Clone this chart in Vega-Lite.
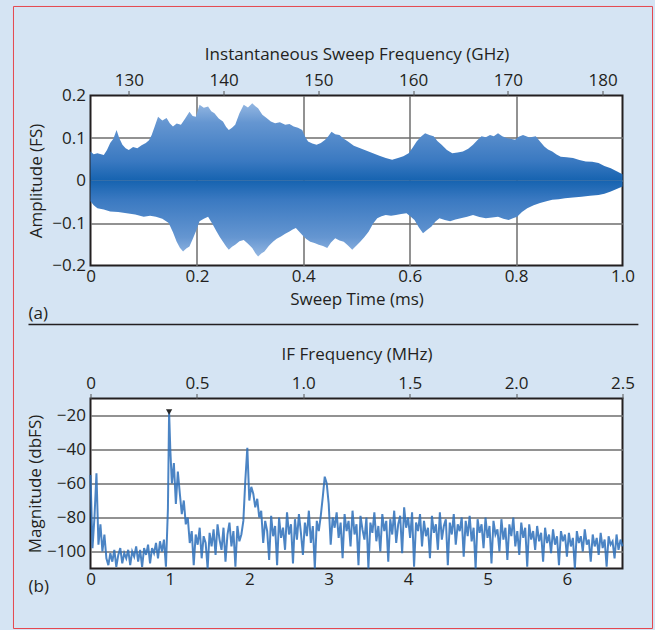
{
  "$schema": "https://vega.github.io/schema/vega-lite/v6.json",
  "background": "#d5e4f3",
  "padding": {"left": 11.5, "top": 4.5, "right": 3.5, "bottom": 2.5},
  "bounds": "flush",
  "spacing": 133,
  "config": {
    "font": "Open Sans",
    "view": {"fill": "white", "stroke": "#231f20", "strokeWidth": 2},
    "axis": {
      "labelFont": "Open Sans", "titleFont": "Open Sans",
      "labelFontSize": 17, "titleFontSize": 17,
      "labelColor": "#231f20", "titleColor": "#231f20",
      "titleFontWeight": "normal",
      "domain": false, "ticks": false,
      "gridColor": "#6e6e6e", "gridWidth": 1.5, "gridOpacity": 1,
      "labelOverlap": false, "labelFlush": false, "zindex": 1
    },
    "text": {"font": "Open Sans", "fontSize": 17, "color": "#231f20"}
  },
  "datasets": {
    "upper": [
      {"t":0,"a":0.068},{"t":0.006,"a":0.062},{"t":0.013,"a":0.064},{"t":0.025,"a":0.06},{"t":0.031,"a":0.072},{"t":0.037,"a":0.088},{"t":0.043,"a":0.098},{"t":0.049,"a":0.119},{"t":0.054,"a":0.1},{"t":0.06,"a":0.084},{"t":0.066,"a":0.076},{"t":0.072,"a":0.072},{"t":0.08,"a":0.079},{"t":0.088,"a":0.076},{"t":0.096,"a":0.083},{"t":0.104,"a":0.088},{"t":0.11,"a":0.095},{"t":0.115,"a":0.107},{"t":0.121,"a":0.128},{"t":0.127,"a":0.15},{"t":0.135,"a":0.141},{"t":0.143,"a":0.147},{"t":0.149,"a":0.135},{"t":0.155,"a":0.127},{"t":0.162,"a":0.134},{"t":0.17,"a":0.131},{"t":0.178,"a":0.146},{"t":0.186,"a":0.162},{"t":0.192,"a":0.152},{"t":0.198,"a":0.15},{"t":0.205,"a":0.178},{"t":0.213,"a":0.171},{"t":0.221,"a":0.174},{"t":0.227,"a":0.163},{"t":0.233,"a":0.158},{"t":0.241,"a":0.146},{"t":0.249,"a":0.139},{"t":0.255,"a":0.126},{"t":0.26,"a":0.119},{"t":0.266,"a":0.124},{"t":0.272,"a":0.131},{"t":0.28,"a":0.158},{"t":0.288,"a":0.178},{"t":0.296,"a":0.172},{"t":0.304,"a":0.182},{"t":0.31,"a":0.175},{"t":0.315,"a":0.17},{"t":0.323,"a":0.155},{"t":0.331,"a":0.147},{"t":0.339,"a":0.139},{"t":0.347,"a":0.135},{"t":0.356,"a":0.137},{"t":0.366,"a":0.131},{"t":0.374,"a":0.133},{"t":0.382,"a":0.127},{"t":0.39,"a":0.124},{"t":0.398,"a":0.119},{"t":0.403,"a":0.104},{"t":0.409,"a":0.092},{"t":0.417,"a":0.087},{"t":0.425,"a":0.084},{"t":0.433,"a":0.088},{"t":0.441,"a":0.096},{"t":0.447,"a":0.104},{"t":0.453,"a":0.115},{"t":0.46,"a":0.109},{"t":0.468,"a":0.107},{"t":0.476,"a":0.098},{"t":0.484,"a":0.092},{"t":0.495,"a":0.082},{"t":0.507,"a":0.076},{"t":0.519,"a":0.07},{"t":0.531,"a":0.064},{"t":0.543,"a":0.058},{"t":0.555,"a":0.053},{"t":0.567,"a":0.049},{"t":0.578,"a":0.053},{"t":0.588,"a":0.057},{"t":0.598,"a":0.064},{"t":0.606,"a":0.078},{"t":0.613,"a":0.092},{"t":0.621,"a":0.103},{"t":0.629,"a":0.111},{"t":0.637,"a":0.107},{"t":0.645,"a":0.104},{"t":0.652,"a":0.093},{"t":0.66,"a":0.084},{"t":0.67,"a":0.072},{"t":0.68,"a":0.064},{"t":0.69,"a":0.066},{"t":0.7,"a":0.068},{"t":0.71,"a":0.075},{"t":0.719,"a":0.084},{"t":0.727,"a":0.095},{"t":0.735,"a":0.104},{"t":0.743,"a":0.102},{"t":0.751,"a":0.107},{"t":0.758,"a":0.104},{"t":0.766,"a":0.111},{"t":0.774,"a":0.104},{"t":0.782,"a":0.1},{"t":0.79,"a":0.098},{"t":0.798,"a":0.096},{"t":0.805,"a":0.103},{"t":0.813,"a":0.107},{"t":0.825,"a":0.101},{"t":0.837,"a":0.104},{"t":0.845,"a":0.092},{"t":0.853,"a":0.08},{"t":0.86,"a":0.073},{"t":0.868,"a":0.068},{"t":0.876,"a":0.061},{"t":0.884,"a":0.056},{"t":0.895,"a":0.055},{"t":0.907,"a":0.053},{"t":0.919,"a":0.048},{"t":0.931,"a":0.045},{"t":0.943,"a":0.044},{"t":0.955,"a":0.041},{"t":0.966,"a":0.034},{"t":0.978,"a":0.029},{"t":0.989,"a":0.022},{"t":1.0,"a":0.015}
    ],
    "lower": [
      {"t":0,"a":-0.049},{"t":0.006,"a":-0.058},{"t":0.013,"a":-0.065},{"t":0.025,"a":-0.068},{"t":0.037,"a":-0.073},{"t":0.052,"a":-0.074},{"t":0.068,"a":-0.077},{"t":0.084,"a":-0.08},{"t":0.1,"a":-0.085},{"t":0.112,"a":-0.083},{"t":0.123,"a":-0.085},{"t":0.135,"a":-0.09},{"t":0.147,"a":-0.1},{"t":0.155,"a":-0.122},{"t":0.162,"a":-0.144},{"t":0.168,"a":-0.158},{"t":0.174,"a":-0.167},{"t":0.18,"a":-0.16},{"t":0.186,"a":-0.155},{"t":0.192,"a":-0.138},{"t":0.198,"a":-0.12},{"t":0.205,"a":-0.096},{"t":0.213,"a":-0.09},{"t":0.221,"a":-0.085},{"t":0.229,"a":-0.102},{"t":0.237,"a":-0.12},{"t":0.243,"a":-0.133},{"t":0.249,"a":-0.144},{"t":0.255,"a":-0.155},{"t":0.26,"a":-0.163},{"t":0.266,"a":-0.156},{"t":0.272,"a":-0.151},{"t":0.28,"a":-0.143},{"t":0.288,"a":-0.14},{"t":0.296,"a":-0.149},{"t":0.304,"a":-0.159},{"t":0.31,"a":-0.171},{"t":0.315,"a":-0.179},{"t":0.321,"a":-0.172},{"t":0.327,"a":-0.167},{"t":0.335,"a":-0.154},{"t":0.343,"a":-0.144},{"t":0.35,"a":-0.137},{"t":0.358,"a":-0.132},{"t":0.366,"a":-0.125},{"t":0.374,"a":-0.12},{"t":0.38,"a":-0.115},{"t":0.386,"a":-0.112},{"t":0.392,"a":-0.12},{"t":0.398,"a":-0.128},{"t":0.405,"a":-0.137},{"t":0.413,"a":-0.144},{"t":0.421,"a":-0.147},{"t":0.429,"a":-0.151},{"t":0.437,"a":-0.154},{"t":0.445,"a":-0.159},{"t":0.452,"a":-0.146},{"t":0.46,"a":-0.136},{"t":0.468,"a":-0.141},{"t":0.476,"a":-0.144},{"t":0.484,"a":-0.153},{"t":0.492,"a":-0.163},{"t":0.5,"a":-0.153},{"t":0.507,"a":-0.144},{"t":0.515,"a":-0.133},{"t":0.523,"a":-0.12},{"t":0.531,"a":-0.102},{"t":0.539,"a":-0.089},{"t":0.547,"a":-0.084},{"t":0.555,"a":-0.081},{"t":0.565,"a":-0.083},{"t":0.574,"a":-0.081},{"t":0.584,"a":-0.079},{"t":0.594,"a":-0.077},{"t":0.601,"a":-0.084},{"t":0.609,"a":-0.093},{"t":0.617,"a":-0.11},{"t":0.625,"a":-0.124},{"t":0.633,"a":-0.116},{"t":0.641,"a":-0.108},{"t":0.648,"a":-0.097},{"t":0.656,"a":-0.089},{"t":0.666,"a":-0.093},{"t":0.676,"a":-0.096},{"t":0.686,"a":-0.092},{"t":0.696,"a":-0.089},{"t":0.708,"a":-0.085},{"t":0.719,"a":-0.081},{"t":0.731,"a":-0.086},{"t":0.743,"a":-0.089},{"t":0.755,"a":-0.087},{"t":0.766,"a":-0.085},{"t":0.776,"a":-0.09},{"t":0.786,"a":-0.093},{"t":0.794,"a":-0.089},{"t":0.802,"a":-0.085},{"t":0.811,"a":-0.074},{"t":0.821,"a":-0.065},{"t":0.833,"a":-0.058},{"t":0.845,"a":-0.053},{"t":0.857,"a":-0.049},{"t":0.868,"a":-0.045},{"t":0.88,"a":-0.044},{"t":0.892,"a":-0.042},{"t":0.907,"a":-0.04},{"t":0.923,"a":-0.038},{"t":0.939,"a":-0.036},{"t":0.955,"a":-0.034},{"t":0.966,"a":-0.031},{"t":0.978,"a":-0.026},{"t":0.989,"a":-0.02},{"t":1.0,"a":-0.014}
    ],
    "ghz": [{"f":125.95},{"f":182.1}],
    "mhz": [{"f":0},{"f":2.5}],
    "peak": [{"f":0.99,"db":-18}],
    "spec": [
      {"f":0,"db":-55},{"f":0.025,"db":-98},{"f":0.05,"db":-80},{"f":0.075,"db":-54},{"f":0.1,"db":-96},{"f":0.125,"db":-84},{"f":0.15,"db":-100},{"f":0.175,"db":-90},{"f":0.2,"db":-104},
      {"f":0.225,"db":-108},{"f":0.25,"db":-101},{"f":0.275,"db":-106},{"f":0.3,"db":-99},{"f":0.325,"db":-109},{"f":0.35,"db":-102},{"f":0.375,"db":-98},{"f":0.4,"db":-107},{"f":0.425,"db":-101},{"f":0.45,"db":-104},{"f":0.475,"db":-99},{"f":0.5,"db":-108},{"f":0.525,"db":-100},{"f":0.55,"db":-103},{"f":0.575,"db":-97},{"f":0.6,"db":-106},{"f":0.625,"db":-99},{"f":0.65,"db":-109},{"f":0.675,"db":-98},{"f":0.7,"db":-102},{"f":0.725,"db":-96},{"f":0.75,"db":-107},{"f":0.775,"db":-98},{"f":0.8,"db":-101},{"f":0.825,"db":-95},{"f":0.85,"db":-104},{"f":0.875,"db":-94},{"f":0.9,"db":-100},{"f":0.925,"db":-93},{"f":0.95,"db":-109},{"f":0.975,"db":-75},
      {"f":0.99,"db":-18},{"f":1.005,"db":-40},{"f":1.025,"db":-60},{"f":1.05,"db":-48},{"f":1.075,"db":-72},{"f":1.1,"db":-53},{"f":1.125,"db":-66},{"f":1.15,"db":-78},{"f":1.175,"db":-70},{"f":1.2,"db":-84},{"f":1.225,"db":-80},{"f":1.25,"db":-95},{"f":1.275,"db":-88},{"f":1.3,"db":-108},{"f":1.325,"db":-90},{"f":1.35,"db":-96},{"f":1.375,"db":-86},{"f":1.4,"db":-104},{"f":1.425,"db":-91},{"f":1.45,"db":-95},{"f":1.475,"db":-110},{"f":1.5,"db":-89},{"f":1.525,"db":-97},{"f":1.55,"db":-87},{"f":1.575,"db":-102},{"f":1.6,"db":-84},{"f":1.625,"db":-93},{"f":1.65,"db":-99},{"f":1.675,"db":-86},{"f":1.7,"db":-106},{"f":1.725,"db":-90},{"f":1.75,"db":-83},{"f":1.775,"db":-97},{"f":1.8,"db":-88},{"f":1.825,"db":-109},{"f":1.85,"db":-85},{"f":1.875,"db":-94},{"f":1.9,"db":-90},{"f":1.925,"db":-82},{"f":1.95,"db":-58},{"f":1.975,"db":-39},
      {"f":2.0,"db":-70},{"f":2.025,"db":-62},{"f":2.05,"db":-66},{"f":2.075,"db":-74},{"f":2.1,"db":-69},{"f":2.125,"db":-80},{"f":2.15,"db":-76},{"f":2.175,"db":-95},{"f":2.2,"db":-82},{"f":2.225,"db":-88},{"f":2.25,"db":-105},{"f":2.275,"db":-79},{"f":2.3,"db":-91},{"f":2.325,"db":-85},{"f":2.35,"db":-108},{"f":2.375,"db":-80},{"f":2.4,"db":-92},{"f":2.425,"db":-86},{"f":2.45,"db":-99},{"f":2.475,"db":-77},{"f":2.5,"db":-90},{"f":2.525,"db":-84},{"f":2.55,"db":-107},{"f":2.575,"db":-81},{"f":2.6,"db":-93},{"f":2.625,"db":-78},{"f":2.65,"db":-89},{"f":2.675,"db":-102},{"f":2.7,"db":-83},{"f":2.725,"db":-91},{"f":2.75,"db":-76},{"f":2.775,"db":-95},{"f":2.8,"db":-85},{"f":2.825,"db":-110},{"f":2.85,"db":-82},{"f":2.875,"db":-88},{"f":2.9,"db":-79},{"f":2.925,"db":-68},{"f":2.95,"db":-56},{"f":2.975,"db":-60},
      {"f":3.0,"db":-72},{"f":3.025,"db":-96},{"f":3.05,"db":-80},{"f":3.075,"db":-86},{"f":3.1,"db":-77},{"f":3.125,"db":-92},{"f":3.15,"db":-83},{"f":3.175,"db":-104},{"f":3.2,"db":-78},{"f":3.225,"db":-88},{"f":3.25,"db":-82},{"f":3.275,"db":-97},{"f":3.3,"db":-76},{"f":3.325,"db":-90},{"f":3.35,"db":-84},{"f":3.375,"db":-108},{"f":3.4,"db":-79},{"f":3.425,"db":-87},{"f":3.45,"db":-93},{"f":3.475,"db":-80},{"f":3.5,"db":-110},{"f":3.525,"db":-83},{"f":3.55,"db":-89},{"f":3.575,"db":-77},{"f":3.6,"db":-94},{"f":3.625,"db":-85},{"f":3.65,"db":-100},{"f":3.675,"db":-78},{"f":3.7,"db":-88},{"f":3.725,"db":-82},{"f":3.75,"db":-106},{"f":3.775,"db":-81},{"f":3.8,"db":-90},{"f":3.825,"db":-76},{"f":3.85,"db":-95},{"f":3.875,"db":-84},{"f":3.9,"db":-79},{"f":3.925,"db":-101},{"f":3.95,"db":-74},{"f":3.975,"db":-86},
      {"f":4.0,"db":-80},{"f":4.025,"db":-92},{"f":4.05,"db":-77},{"f":4.075,"db":-109},{"f":4.1,"db":-83},{"f":4.125,"db":-88},{"f":4.15,"db":-78},{"f":4.175,"db":-97},{"f":4.2,"db":-82},{"f":4.225,"db":-91},{"f":4.25,"db":-86},{"f":4.275,"db":-104},{"f":4.3,"db":-79},{"f":4.325,"db":-89},{"f":4.35,"db":-84},{"f":4.375,"db":-99},{"f":4.4,"db":-77},{"f":4.425,"db":-93},{"f":4.45,"db":-85},{"f":4.475,"db":-81},{"f":4.5,"db":-108},{"f":4.525,"db":-83},{"f":4.55,"db":-90},{"f":4.575,"db":-78},{"f":4.6,"db":-96},{"f":4.625,"db":-84},{"f":4.65,"db":-88},{"f":4.675,"db":-80},{"f":4.7,"db":-103},{"f":4.725,"db":-82},{"f":4.75,"db":-91},{"f":4.775,"db":-79},{"f":4.8,"db":-94},{"f":4.825,"db":-86},{"f":4.85,"db":-110},{"f":4.875,"db":-81},{"f":4.9,"db":-89},{"f":4.925,"db":-84},{"f":4.95,"db":-98},{"f":4.975,"db":-80},
      {"f":5.0,"db":-92},{"f":5.025,"db":-85},{"f":5.05,"db":-107},{"f":5.075,"db":-82},{"f":5.1,"db":-90},{"f":5.125,"db":-87},{"f":5.15,"db":-100},{"f":5.175,"db":-81},{"f":5.2,"db":-93},{"f":5.225,"db":-86},{"f":5.25,"db":-105},{"f":5.275,"db":-84},{"f":5.3,"db":-91},{"f":5.325,"db":-80},{"f":5.35,"db":-97},{"f":5.375,"db":-88},{"f":5.4,"db":-102},{"f":5.425,"db":-83},{"f":5.45,"db":-92},{"f":5.475,"db":-86},{"f":5.5,"db":-109},{"f":5.525,"db":-84},{"f":5.55,"db":-93},{"f":5.575,"db":-88},{"f":5.6,"db":-99},{"f":5.625,"db":-85},{"f":5.65,"db":-94},{"f":5.675,"db":-89},{"f":5.7,"db":-106},{"f":5.725,"db":-86},{"f":5.75,"db":-95},{"f":5.775,"db":-90},{"f":5.8,"db":-101},{"f":5.825,"db":-87},{"f":5.85,"db":-96},{"f":5.875,"db":-91},{"f":5.9,"db":-108},{"f":5.925,"db":-88},{"f":5.95,"db":-94},{"f":5.975,"db":-90},
      {"f":6.0,"db":-103},{"f":6.025,"db":-89},{"f":6.05,"db":-97},{"f":6.075,"db":-92},{"f":6.1,"db":-110},{"f":6.125,"db":-88},{"f":6.15,"db":-95},{"f":6.175,"db":-91},{"f":6.2,"db":-100},{"f":6.225,"db":-87},{"f":6.25,"db":-96},{"f":6.275,"db":-93},{"f":6.3,"db":-106},{"f":6.325,"db":-90},{"f":6.35,"db":-97},{"f":6.375,"db":-92},{"f":6.4,"db":-102},{"f":6.425,"db":-89},{"f":6.45,"db":-98},{"f":6.475,"db":-93},{"f":6.5,"db":-109},{"f":6.525,"db":-91},{"f":6.55,"db":-96},{"f":6.575,"db":-94},{"f":6.6,"db":-104},{"f":6.625,"db":-90},{"f":6.65,"db":-99},{"f":6.675,"db":-93},{"f":6.7,"db":-97}
    ]
  },
  "vconcat": [
    {
      "width": 532, "height": 170,
      "layer": [
        {
          "layer": [
            {
              "data": {"name": "upper"},
              "mark": {"type": "area", "fill": {"gradient": "linear", "x1": 0, "y1": 0, "x2": 0, "y2": 1, "stops": [{"offset": 0, "color": "#94b7e2"}, {"offset": 0.25, "color": "#6596d1"}, {"offset": 0.75, "color": "#3a79c1"}, {"offset": 1, "color": "#1663b0"}]}},
              "encoding": {
                "x": {"field": "t", "type": "quantitative", "scale": {"domain": [0, 1], "nice": false},
                  "axis": {"title": "Sweep Time (ms)", "values": [0, 0.2, 0.4, 0.6, 0.8, 1.0], "labelExpr": "datum.value == 0 ? '0' : format(datum.value, '.1f')", "grid": true, "gridColor": {"condition": {"test": "datum.value == 0 || datum.value == 1", "value": "transparent"}, "value": "#6e6e6e"}, "labelPadding": 3, "titlePadding": 7}},
                "y": {"field": "a", "type": "quantitative", "scale": {"domain": [-0.2, 0.2], "nice": false},
                  "axis": {"title": "Amplitude (FS)", "values": [-0.2, -0.1, 0, 0.1, 0.2], "format": "~g", "grid": true, "gridColor": {"condition": {"test": "abs(datum.value) > 0.15", "value": "transparent"}, "value": "#6e6e6e"}, "labelPadding": 5, "titlePadding": 6}},
                "y2": {"datum": 0}
              }
            },
            {
              "data": {"name": "lower"},
              "mark": {"type": "area", "fill": {"gradient": "linear", "x1": 0, "y1": 0, "x2": 0, "y2": 1, "stops": [{"offset": 0, "color": "#1663b0"}, {"offset": 0.25, "color": "#3a79c1"}, {"offset": 0.75, "color": "#6596d1"}, {"offset": 1, "color": "#94b7e2"}]}},
              "encoding": {
                "x": {"field": "t", "type": "quantitative"},
                "y": {"field": "a", "type": "quantitative"},
                "y2": {"datum": 0}
              }
            },
            {
              "data": {"values": [{}]},
              "mark": {"type": "text", "text": "(a)", "align": "left", "baseline": "middle", "fontSize": 17, "color": "#231f20"},
              "encoding": {"x": {"datum": -0.1165, "type": "quantitative"}, "y": {"datum": -0.313, "type": "quantitative"}}
            }
          ]
        },
        {
          "data": {"name": "ghz"},
          "mark": {"type": "point", "opacity": 0},
          "encoding": {
            "x": {"field": "f", "type": "quantitative", "scale": {"domain": [125.95, 182.1], "nice": false, "zero": false},
              "axis": {"orient": "top", "title": "Instantaneous Sweep Frequency (GHz)", "values": [130, 140, 150, 160, 170, 180], "grid": false, "ticks": true, "tickSize": 5, "tickColor": "#555555", "tickWidth": 1, "labelPadding": 1, "titlePadding": 8}}
          }
        }
      ],
      "resolve": {"scale": {"x": "independent"}, "axis": {"x": "independent"}}
    },
    {
      "width": 532, "height": 170,
      "layer": [
        {
          "layer": [
            {
              "data": {"name": "spec"},
              "mark": {"type": "line", "strokeWidth": 2, "color": "#2c6fba", "opacity": 0.85},
              "encoding": {
                "x": {"field": "f", "type": "quantitative", "scale": {"domain": [0, 6.7], "nice": false},
                  "axis": {"title": null, "values": [0, 1, 2, 3, 4, 5, 6], "format": "d", "grid": false, "labelPadding": 3}},
                "y": {"field": "db", "type": "quantitative", "scale": {"domain": [-110, -10], "nice": false},
                  "axis": {"title": "Magnitude (dbFS)", "values": [-20, -40, -60, -80, -100], "grid": true, "labelPadding": 5, "titlePadding": 2}}
              }
            },
            {
              "data": {"name": "peak"},
              "mark": {"type": "point", "shape": "triangle-down", "filled": true, "color": "#2a2a2a", "size": 40, "opacity": 1},
              "encoding": {"x": {"field": "f", "type": "quantitative"}, "y": {"field": "db", "type": "quantitative"}}
            },
            {
              "data": {"values": [{}]},
              "mark": {"type": "rule", "color": "#231f20", "strokeWidth": 1.5},
              "encoding": {"x": {"datum": -0.781, "type": "quantitative"}, "x2": {"datum": 6.9}, "y": {"datum": 33.5, "type": "quantitative"}}
            },
            {
              "data": {"values": [{}]},
              "mark": {"type": "rect", "fill": "transparent", "stroke": "#e5474f", "strokeWidth": 1},
              "encoding": {"x": {"datum": -0.97, "type": "quantitative"}, "x2": {"datum": 7.078}, "y": {"datum": 220.6, "type": "quantitative"}, "y2": {"datum": -145.3}}
            },
            {
              "data": {"values": [{}]},
              "mark": {"type": "text", "text": "(b)", "align": "left", "baseline": "middle", "fontSize": 17, "color": "#231f20"},
              "encoding": {"x": {"datum": -0.781, "type": "quantitative"}, "y": {"datum": -120.6, "type": "quantitative"}}
            }
          ]
        },
        {
          "data": {"name": "mhz"},
          "mark": {"type": "point", "opacity": 0},
          "encoding": {
            "x": {"field": "f", "type": "quantitative", "scale": {"domain": [0, 2.5], "nice": false},
              "axis": {"orient": "top", "title": "IF Frequency (MHz)", "values": [0, 0.5, 1, 1.5, 2, 2.5], "labelExpr": "datum.value == 0 ? '0' : format(datum.value, '.1f')", "grid": false, "ticks": true, "tickSize": 5, "tickColor": "#555555", "tickWidth": 1, "labelPadding": 1, "titlePadding": 11}}
          }
        }
      ],
      "resolve": {"scale": {"x": "independent"}, "axis": {"x": "independent"}}
    }
  ]
}
